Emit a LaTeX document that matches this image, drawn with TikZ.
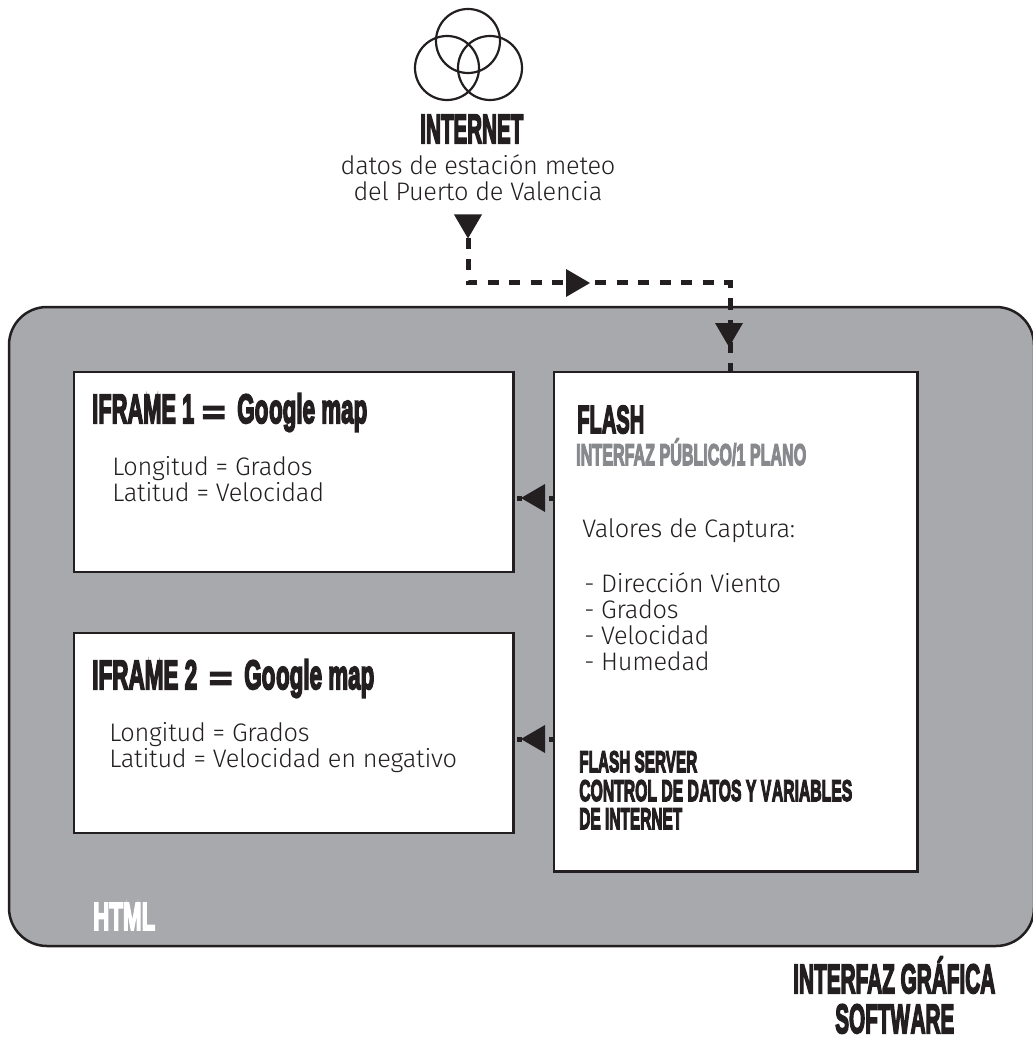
\documentclass[tikz,border=0pt]{standalone}
\usepackage{fontspec}
\usepackage{graphicx}
\setmainfont[LetterSpace=-1]{Fira Sans Light}
\newfontfamily\heavy[FakeBold=5]{Liberation Sans Bold}
\newlength{\px}\setlength{\px}{0.75pt}
% heavy condensed text: size in px, target width in px
\newcommand{\cn}[3]{{\fontsize{#1\px}{#1\px}\heavy\resizebox{#2\px}{\height}{#3}}}
\definecolor{ink}{HTML}{231F20}
\definecolor{panel}{HTML}{A7A9AC}
\definecolor{subtle}{HTML}{87898C}
\definecolor{lighttext}{HTML}{231F20}
\tikzset{
  boxbase/.style={draw=ink,line width=2.5\px,fill=white,inner sep=0pt,outer sep=0pt,anchor=north west},
  title/.style={inner sep=0pt,anchor=base west,text=ink},
  body/.style={inner sep=0pt,anchor=base west,text=lighttext,font=\fontsize{19}{19.5}\selectfont,align=left},
  dashline/.style={draw=ink,line width=5\px,dash pattern=on 11\px off 10.5\px},
  tickline/.style={draw=ink,line width=5\px,dash pattern=on 5\px off 27\px},
  tri/.pic={\fill[ink] (12,0)--(-12,14)--(-12,-14)--cycle;},
  ring/.style={draw=ink,line width=2.2\px,outer sep=0pt}
}
\begin{document}
\begin{tikzpicture}[x=0.75pt,y=-0.75pt]
\useasboundingbox (0,0) rectangle (1032,1037);
\node[boxbase,fill=panel,rounded corners=28.5pt,minimum width=768.75pt,minimum height=479.25pt] (html) at (9,307) {};
\node[boxbase,minimum width=329.5pt,minimum height=150pt] (iframeA) at (74,372) {};
\node[boxbase,minimum width=329.5pt,minimum height=150pt] (iframeB) at (74,633) {};
\node[boxbase,minimum width=272.5pt,minimum height=374.5pt] (flash) at (554,372) {};
% internet symbol
\node[ring,circle,minimum size=64\px,inner sep=0pt] (ringT) at (468,41) {};
\node[ring,circle,minimum size=64\px,inner sep=0pt] (ringL) at (447,68) {};
\node[ring,circle,minimum size=64\px,inner sep=0pt] (ringR) at (490,68) {};
% top texts
\node[title] (inet) at (420,143) {\cn{41}{103}{INTERNET}};
\node[inner sep=0pt,text=lighttext,font=\fontsize{19}{19.5}\selectfont,align=center,anchor=base] (src) at (478,201) {datos de estación meteo\\del Puerto de Valencia};
% iframe 1
\node[title] (ta) at (92,423) {\cn{41}{102}{IFRAME 1}};
\node[title] (tae) at (202,423) {\cn{32}{23}{=}};
\node[title] (tag) at (237,423) {\cn{41}{130}{Go\kern1pt ogle map}};
\node[body] (ba) at (112,501) {Longitud = Grados\\Latitud = Velocidad};
% iframe 2
\node[title] (tb) at (92,689) {\cn{41}{105}{IFRAME 2}};
\node[title] (tbe) at (209,689) {\cn{32}{23}{=}};
\node[title] (tbg) at (244,689) {\cn{41}{130}{Go\kern1pt ogle map}};
\node[body] (bb) at (109,767) {Longitud = Grados\\Latitud = Velocidad en negativo};
% flash
\node[title] (tf) at (577,433) {\cn{39}{67}{FLASH}};
\node[title,text=subtle] (tfi) at (576,465) {\cn{30}{230}{INTERFAZ PÚBLICO/1 PLANO}};
\node[body] (cap) at (582,537) {Valores de Captura:};
\node[body] (list) at (584,670) {-\hspace{5pt}Dirección Viento\\-\hspace{5pt}Grados\\-\hspace{5pt}Velocidad\\-\hspace{5pt}Humedad};
\node[title] (fsa) at (579,772) {\cn{30}{118}{FLASH SERVER}};
\node[title] (fsb) at (579,801) {\cn{30}{273}{CONTROL DE D\kern.5pt ATOS Y V\kern1pt ARIABLES}};
\node[title] (fsc) at (579,829) {\cn{30}{103}{DE INTERNET}};
% outer
\node[title,text=white] (ht) at (93,930) {\cn{39}{62}{HTML}};
\node[title] (ga) at (793,993) {\cn{41}{202}{INTERFAZ GRÁFICA}};
\node[title] (gb) at (835,1033) {\cn{41}{119}{SOFTW\kern1pt ARE}};
% connectors
\coordinate (start) at (468,238);
\coordinate (bendA) at (468,283);
\coordinate (bendB) at (730,283);
\draw[dashline] (start) -- (bendA) -- (bendB) -- (bendB |- flash.north);
\coordinate (outA) at (554,498);
\coordinate (outB) at (554,739);
\draw[tickline] (outA) -- (iframeA.east |- outA);
\draw[tickline] (outB) -- (iframeB.east |- outB);
\pic[rotate=-90] at (468,226.5) {tri};
\pic at (578,283) {tri};
\pic[rotate=-90] at (729,335) {tri};
\pic[rotate=180] at (533,498) {tri};
\pic[rotate=180] at (533,739) {tri};
\end{tikzpicture}
\end{document}
